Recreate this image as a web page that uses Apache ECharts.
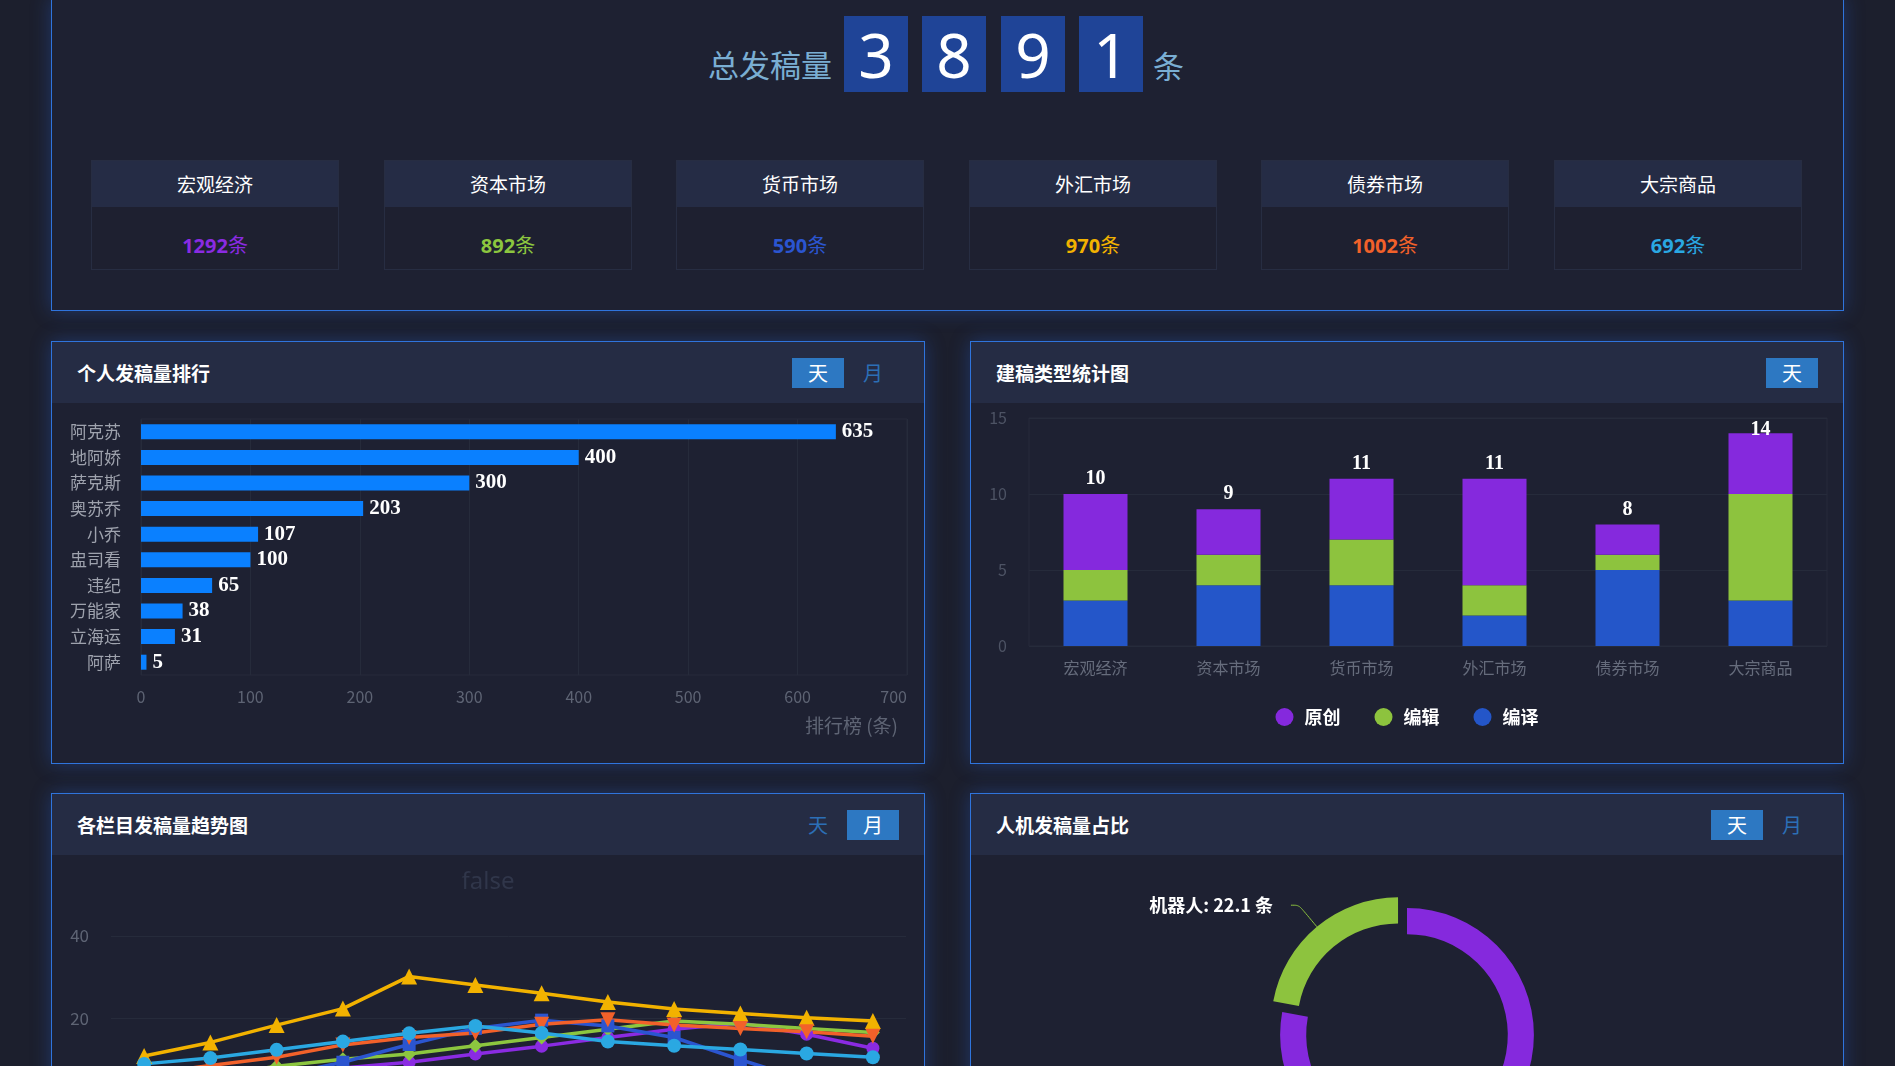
<!DOCTYPE html>
<html>
<head>
<meta charset="utf-8">
<script src="https://cdn.jsdelivr.net/npm/echarts@6/dist/echarts.min.js"></script>
<style>
html,body{margin:0;padding:0;overflow:hidden;background:#1c1f2d;width:1895px;height:1066px;font-family:"Noto Sans CJK SC","Noto Sans",sans-serif;}
#root{position:absolute;left:0;top:0;width:1895px;height:1300px;}
.panel{position:absolute;box-sizing:border-box;border:1px solid #2f74dc;background:#1e2132;box-shadow:0 0 18px rgba(40,100,220,0.35);}
.phead{position:absolute;left:0;top:0;right:0;height:61px;background:#252c44;}
.ptitle{position:absolute;left:25px;top:0;height:61px;line-height:61px;color:#fff;font-weight:bold;font-size:19px;}
.btn{position:absolute;top:16px;width:52px;height:30px;line-height:30px;text-align:center;font-size:20px;color:#2c6fb6;}
.btn.on{background:#2d78c2;color:#fff;}
.s1{left:740px;} .s2{left:795px;}
.chart{position:absolute;left:0;top:61px;width:872px;height:360px;}
.digit{position:absolute;top:16px;width:64px;height:76px;line-height:76px;background:#1f4497;color:#fff;font-size:62px;text-align:center;font-family:"Noto Sans","Open Sans",sans-serif;}
.card{position:absolute;top:160px;width:248px;height:110px;box-sizing:border-box;border:1px solid #272d42;background:#1e2030;}
.card .ch{height:46px;line-height:46px;background:#252c45;color:#fff;text-align:center;font-size:19px;}
.card .cv{text-align:center;font-size:20px;line-height:38px;padding-top:19px;}
.card .cv b{font-family:"Open Sans","Noto Sans",sans-serif;font-weight:bold;}
</style>
</head>
<body>
<div id="root">
  <div class="panel" id="topPanel" style="left:51px;top:-2px;width:1793px;height:313px;"></div>
  <div id="totalLabel" style="position:absolute;left:708px;top:44px;font-size:31px;line-height:40px;color:#7aaed3;">总发稿量</div>
  <div id="digits"></div>
  <div style="position:absolute;left:1153px;top:45px;font-size:31px;line-height:40px;color:#7aaed3;">条</div>
  <div id="cards"></div>

  <div class="panel" style="left:51px;top:341px;width:874px;height:423px;">
    <div class="phead"><div class="ptitle">个人发稿量排行</div>
      <div class="btn s1 on">天</div><div class="btn s2">月</div></div>
    <div class="chart" id="c1"></div>
  </div>
  <div class="panel" style="left:970px;top:341px;width:874px;height:423px;">
    <div class="phead"><div class="ptitle">建稿类型统计图</div>
      <div class="btn s2 on">天</div></div>
    <div class="chart" id="c2"></div>
  </div>
  <div class="panel" style="left:51px;top:793px;width:874px;height:423px;">
    <div class="phead"><div class="ptitle">各栏目发稿量趋势图</div>
      <div class="btn s1">天</div><div class="btn s2 on">月</div></div>
    <div class="chart" id="c3"></div>
  </div>
  <div class="panel" style="left:970px;top:793px;width:874px;height:423px;">
    <div class="phead"><div class="ptitle">人机发稿量占比</div>
      <div class="btn s1 on">天</div><div class="btn s2">月</div></div>
    <div class="chart" id="c4"></div>
  </div>
</div>
<script>
// ---------------- data ----------------
const totalDigits = ['3', '8', '9', '1'];
const categories = ['宏观经济', '资本市场', '货币市场', '外汇市场', '债券市场', '大宗商品'];
const categoryCounts = [1292, 892, 590, 970, 1002, 692];

const rankNames = ['阿克苏', '地阿娇', '萨克斯', '奥苏乔', '小乔', '盅司看', '违纪', '万能家', '立海运', '阿萨'];
const rankValues = [635, 400, 300, 203, 107, 100, 65, 38, 31, 5];
const rankTicks = [0, 100, 200, 300, 400, 500, 600, 700];

const typeNames = ['原创', '编辑', '编译'];
const typeOriginal = [5, 3, 4, 7, 2, 4];
const typeEdit = [2, 2, 3, 2, 1, 7];
const typeTranslate = [3, 4, 4, 2, 5, 3];

const months = ['1月', '2月', '3月', '4月', '5月', '6月', '7月', '8月', '9月', '10月', '11月', '12月'];
const trendMacro = [3, 4.5, 6, 8, 9.4, 11.4, 13.3, 15.4, 17.4, 18.9, 16.2, 12.8];
const trendCapital = [4, 6, 8.4, 10.1, 11.4, 13.4, 15.4, 17.4, 19.4, 18.6, 17.6, 16.6];
const trendMoney = [2, 3.5, 6, 9.4, 13.7, 17.6, 19.6, 18.2, 15.4, 10, 5, 3];
const trendForex = [10.9, 14.2, 18.4, 22.4, 30.2, 28.1, 26.1, 24, 22.3, 21.2, 20.2, 19.4];
const trendBond = [6.5, 8.6, 10.6, 13.6, 15.4, 16.5, 18.6, 19.7, 18.4, 17.6, 16.8, 15.7];
const trendCommodity = [9, 10.4, 12.4, 14.4, 16.4, 18.2, 16.5, 14.4, 13.4, 12.5, 11.5, 10.6];

const pieNames = ['人工', '机器人'];
const pieValues = [77.9, 22.1];

// ---------------- styles ----------------
const catColors = ['#8a2be2', '#8cc63f', '#2b55d0', '#f2b200', '#f2612a', '#2aa8e2'];
const C_PURPLE = '#8529dd', C_GREEN = '#8dc33e', C_BLUE = '#2456c9', C_BAR = '#0a80ff';
const gridLine = '#262b3b';
const serifFont = '"Liberation Serif", serif';
const cjk = '"Noto Sans CJK SC", sans-serif';

// ---------------- top panel ----------------
const digitLeft = [844, 922, 1001, 1079];
document.getElementById('digits').innerHTML = totalDigits.map((d, i) =>
  `<div class="digit" style="left:${digitLeft[i]}px">${d}</div>`).join('');
document.getElementById('cards').innerHTML = categories.map((c, i) =>
  `<div class="card" style="left:${Math.round(91 + i * 292.6)}px"><div class="ch">${c}</div>` +
  `<div class="cv" style="color:${catColors[i]}"><b>${categoryCounts[i]}</b>条</div></div>`).join('');

// ---------------- chart 1: ranking ----------------
const c1 = echarts.init(document.getElementById('c1'));
c1.setOption({
  animation: false,
  grid: { left: 89, right: 17, top: 16, bottom: 88, show: true, borderColor: gridLine, borderWidth: 1 },
  xAxis: {
    type: 'value', min: rankTicks[0], max: rankTicks[rankTicks.length - 1], interval: 100,
    axisLine: { show: false }, axisTick: { show: false },
    axisLabel: { color: '#5e6474', fontSize: 16, margin: 14, fontFamily: cjk, alignMaxLabel: 'right' },
    splitLine: { lineStyle: { color: gridLine } }
  },
  yAxis: {
    type: 'category', data: rankNames, inverse: true,
    axisLine: { show: false }, axisTick: { show: false },
    axisLabel: { color: '#9ea2ad', fontSize: 17, margin: 20, fontFamily: cjk }
  },
  graphic: [{ type: 'text', right: 26, top: 313, style: { text: '排行榜 (条)', fill: '#5e6474', font: '19px "Noto Sans CJK SC"' } }],
  series: [{
    type: 'bar', data: rankValues, barWidth: 15,
    itemStyle: { color: C_BAR },
    label: { show: true, position: 'right', distance: 6, color: '#fff', fontWeight: 'bold', fontSize: 21, fontFamily: serifFont }
  }]
});

// ---------------- chart 2: stacked types ----------------
const totals = typeOriginal.map((v, i) => v + typeEdit[i] + typeTranslate[i]);
const c2GridTop = 15;
const c2 = echarts.init(document.getElementById('c2'));
c2.setOption({
  animation: false,
  color: [C_PURPLE, C_GREEN, C_BLUE],
  grid: { left: 58, right: 16, top: c2GridTop, bottom: 117, show: true, borderColor: gridLine, borderWidth: 1 },
  legend: {
    data: typeNames, bottom: 32, left: 'center', icon: 'circle', itemWidth: 18, itemHeight: 18, itemGap: 34,
    textStyle: { color: '#fff', fontWeight: 'bold', fontSize: 18, fontFamily: cjk, padding: [0, 0, 0, 6] }
  },
  xAxis: {
    type: 'category', data: categories,
    axisLine: { show: false }, axisTick: { show: false },
    axisLabel: { color: '#666c7c', fontSize: 16, margin: 14, fontFamily: cjk }
  },
  yAxis: {
    type: 'value', min: 0, max: 15, interval: 5,
    axisLine: { show: false }, axisTick: { show: false },
    axisLabel: { color: '#4d5364', fontSize: 16, margin: 22, fontFamily: cjk },
    splitLine: { lineStyle: { color: gridLine } }
  },
  series: [
    { name: '编译', type: 'bar', stack: 't', data: typeTranslate, barWidth: 64, itemStyle: { color: C_BLUE } },
    { name: '编辑', type: 'bar', stack: 't', data: typeEdit, barWidth: 64, itemStyle: { color: C_GREEN } },
    {
      name: '原创', type: 'bar', stack: 't', data: typeOriginal, barWidth: 64, itemStyle: { color: C_PURPLE },
      label: {
        show: true, position: 'top', distance: 5, color: '#fff', fontWeight: 'bold', fontSize: 20, fontFamily: serifFont,
        formatter: p => totals[p.dataIndex]
      },
      labelLayout: p => (p.labelRect.y < c2GridTop + 2)
        ? { x: p.rect.x + p.rect.width / 2, y: c2GridTop + 2 + p.labelRect.height / 2, align: 'center', verticalAlign: 'middle' } : {}
    }
  ]
});

// ---------------- chart 3: trend lines ----------------
const trendSeries = [
  { name: categories[0], data: trendMacro, symbol: 'circle', size: 13, rot: 0 },
  { name: categories[1], data: trendCapital, symbol: 'diamond', size: 14, rot: 0 },
  { name: categories[2], data: trendMoney, symbol: 'rect', size: 13, rot: 0 },
  { name: categories[3], data: trendForex, symbol: 'triangle', size: 16, rot: 0 },
  { name: categories[4], data: trendBond, symbol: 'triangle', size: 15, rot: 180 },
  { name: categories[5], data: trendCommodity, symbol: 'circle', size: 14, rot: 0 }
];
const c3 = echarts.init(document.getElementById('c3'));
c3.setOption({
  animation: false,
  title: { text: 'false', left: 'center', top: 10, textStyle: { color: '#30364a', fontSize: 24, fontWeight: 'normal', fontFamily: '"Noto Sans", sans-serif' } },
  grid: { left: 59, right: 18, top: 81, bottom: 114 },
  xAxis: {
    type: 'category', data: months, boundaryGap: true,
    axisLine: { lineStyle: { color: gridLine } }, axisTick: { show: false },
    axisLabel: { color: '#5e6474', fontSize: 16 }
  },
  yAxis: {
    type: 'value', min: 0, max: 40, interval: 20,
    axisLine: { show: false }, axisTick: { show: false },
    axisLabel: { color: '#5e6474', fontSize: 17, margin: 22, fontFamily: cjk },
    splitLine: { lineStyle: { color: gridLine } }
  },
  series: trendSeries.map((s, i) => ({
    name: s.name, type: 'line', data: s.data, symbol: s.symbol, symbolSize: s.size, symbolRotate: s.rot,
    showAllSymbol: true,
    lineStyle: { width: 3.5, color: catColors[i] }, itemStyle: { color: catColors[i] }
  }))
});

// ---------------- chart 4: pie ----------------
const c4 = echarts.init(document.getElementById('c4'));
c4.setOption({
  animation: false,
  series: [{
    type: 'pie', radius: ['56%', '70.5%'], center: ['50%', '50%'], startAngle: 90,
    selectedMode: 'single', selectedOffset: 14,
    data: pieNames.map((n, i) => ({
      name: n, value: pieValues[i], selected: i === 1,
      itemStyle: { color: i === 0 ? C_PURPLE : C_GREEN }
    })),
    label: { show: true, color: '#fff', fontWeight: 'bold', fontSize: 18, fontFamily: cjk, padding: [0, 13, 0, 0], formatter: p => p.name + ': ' + p.value + ' 条' },
    labelLine: { show: true, length: 28, length2: 8, smooth: true, lineStyle: { width: 1 } }
  }]
});
</script>
</body>
</html>
